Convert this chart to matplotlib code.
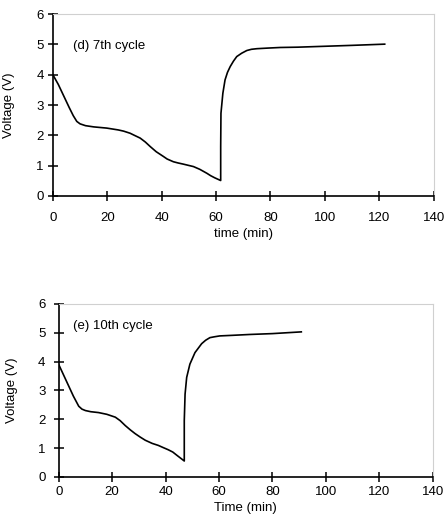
import numpy as np
import matplotlib.pyplot as plt

plt.rcParams['font.family'] = ['Liberation Sans', 'DejaVu Sans']

# 7th cycle: time (min), voltage (V)
t7 = [0, 2, 4, 6, 7.5, 8.8, 10, 12, 15, 19.8, 24, 26, 28.4, 30, 32.1, 34, 35.8, 38, 40.7, 42, 44.3,
      46, 48, 51.7, 54, 56.6, 58, 59.5, 61.7,
      61.7, 61.8, 62.5, 63.3, 64.2, 65.2, 66.4, 67.6, 69.4, 71.3, 73, 75, 79, 83.6, 90, 100, 110, 122]
v7 = [4.0, 3.68, 3.3, 2.92, 2.65, 2.46, 2.38, 2.32, 2.28, 2.24, 2.18, 2.14, 2.07, 2.0, 1.91, 1.78, 1.63,
      1.46, 1.30, 1.22, 1.13, 1.09, 1.05, 0.97, 0.88, 0.75, 0.67, 0.6, 0.51,
      1.63, 2.73, 3.39, 3.83, 4.08, 4.27, 4.45, 4.6, 4.71, 4.80, 4.84, 4.86, 4.88, 4.9, 4.91, 4.94, 4.97, 5.01]

# 10th cycle
t10 = [0, 2, 3.5, 5.5, 7.5, 8.7, 10, 12, 14.9, 18, 21.2, 23, 24.9, 26.8, 28.6, 30.5, 32.4, 35, 37.3,
       39, 41.0, 42.7, 44.2, 47.0,
       47.0, 47.3, 47.9, 49.1, 51.0, 53.5, 55, 56.6, 58.3, 60.3, 65, 71.5, 80, 90.8]
v10 = [3.9, 3.5, 3.2, 2.8, 2.45, 2.35, 2.3, 2.26, 2.23, 2.17, 2.07, 1.95, 1.78, 1.63, 1.50, 1.38, 1.27,
       1.16, 1.09, 1.02, 0.94, 0.86, 0.75, 0.55,
       1.95, 2.87, 3.45, 3.91, 4.31, 4.62, 4.74, 4.83, 4.86, 4.89, 4.91, 4.94, 4.97, 5.03]

panels = [
    dict(t=t7, v=v7, label="(d) 7th cycle", xlabel="time (min)",
         rect=[0.118, 0.626, 0.850, 0.347], txt=(7.5, 4.95), xpad=8, ypad=3, ylx=-0.1),
    dict(t=t10, v=v10, label="(e) 10th cycle", xlabel="Time (min)",
         rect=[0.131, 0.090, 0.835, 0.330], txt=(5.5, 5.22), xpad=3, ypad=6, ylx=-0.11),
]

fig = plt.figure(figsize=(4.48, 5.24), dpi=100)
for p in panels:
    ax = fig.add_axes(p["rect"])
    ax.plot(p["t"], p["v"], color="black", lw=1.2, solid_joinstyle="round")
    ax.set_xlim(0, 140)
    ax.set_ylim(0, 6)
    ax.set_xticks(np.arange(0, 141, 20))
    ax.set_yticks(np.arange(0, 7, 1))
    ax.tick_params(axis="x", direction="inout", length=7, width=1.1, labelsize=9.5, pad=p["xpad"])
    ax.tick_params(axis="y", direction="inout", length=7, width=1.1, labelsize=9.5, pad=p["ypad"])
    for s in ["left", "bottom"]:
        ax.spines[s].set_linewidth(1.2)
    for s in ["top", "right"]:
        ax.spines[s].set_color("#d0d0d0")
        ax.spines[s].set_linewidth(0.8)
    ax.set_xlabel(p["xlabel"], fontsize=9.5, labelpad=3)
    ax.set_ylabel("Voltage (V)", fontsize=9.5)
    ax.yaxis.set_label_coords(p["ylx"], 0.5)
    ax.text(p["txt"][0], p["txt"][1], p["label"], fontsize=9.5, va="center", ha="left")

fig.savefig("out.png", dpi=100)
